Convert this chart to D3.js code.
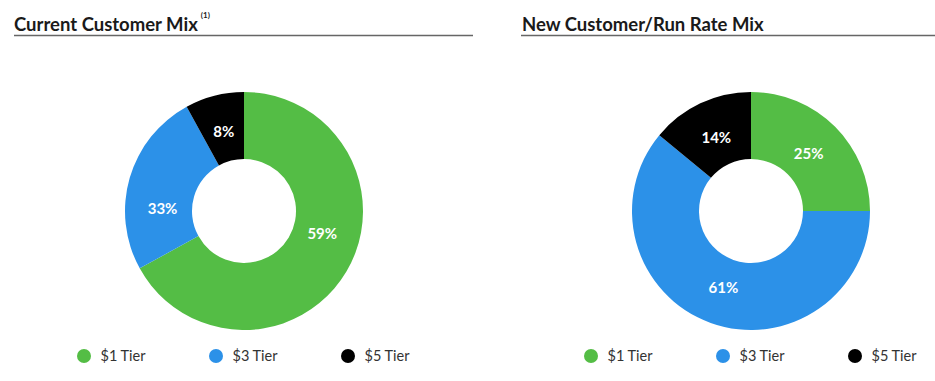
<!DOCTYPE html>
<html><head><meta charset="utf-8">
<script src="https://cdn.jsdelivr.net/npm/d3@7"></script>
<style>
html,body{margin:0;padding:0;background:#fff;}
svg{display:block;font-family:Lato,"Open Sans",sans-serif;}
</style></head>
<body><svg id="chart" width="935" height="381"></svg>
<script>
const tiers = ["$1 Tier", "$3 Tier", "$5 Tier"];
const colors = ["#54BD45", "#2C91E8", "#000000"];
const currentShares = [67, 25, 8];
// printed percentage labels
const currentLabels = [59, 33, 8];
const newShares = [25, 61, 14];
const newLabels = [25, 61, 14];

const svg = d3.select("#chart");
const panels = [
  {title: "Current Customer Mix", sup: "(1)", shares: currentShares, labels: currentLabels, cx: 244, lineX0: 14, lineX1: 473, titleX: 14},
  {title: "New Customer/Run Rate Mix", sup: null, shares: newShares, labels: newLabels, cx: 751, lineX0: 521, lineX1: 935, titleX: 522}
];
const cy = 211, rOuter = 119, rInner = 52;
const pie = d3.pie().sort(null).value(d => d);
const arc = d3.arc().innerRadius(rInner).outerRadius(rOuter);
const labelArc = d3.arc().innerRadius(rInner).outerRadius(rOuter - 8);

panels.forEach(p => {
  const t = svg.append("text").attr("x", p.titleX).attr("y", 31)
    .attr("font-size", 18.5).attr("font-weight", 700).attr("fill", "#1a1a1a")
    .text(p.title);
  if (p.sup) {
    const w = t.node().getComputedTextLength();
    svg.append("text").attr("x", p.titleX + w + 3).attr("y", 18)
      .attr("font-size", 8).attr("font-weight", 700).attr("fill", "#1a1a1a").text(p.sup);
  }
  svg.append("line").attr("x1", p.lineX0).attr("x2", p.lineX1).attr("y1", 35.5).attr("y2", 35.5)
    .attr("stroke", "#666").attr("stroke-width", 1.3);

  const g = svg.append("g").attr("transform", `translate(${p.cx},${cy})`);
  g.selectAll("path").data(pie(p.shares)).join("path")
    .attr("d", arc).attr("fill", (d, i) => colors[i]);
  g.selectAll("text").data(pie(p.labels)).join("text")
    .attr("transform", d => `translate(${labelArc.centroid(d)})`)
    .attr("text-anchor", "middle").attr("dy", "0.35em")
    .attr("font-size", 15).attr("font-weight", 700).attr("fill", "#fff")
    .text(d => d.data + "%");

  const legend = svg.append("g").attr("transform", `translate(${p.cx},356)`);
  const lx = d3.scalePoint().domain(tiers).range([-160, 104]);
  const items = legend.selectAll("g").data(tiers).join("g")
    .attr("transform", d => `translate(${lx(d)},0)`);
  items.append("circle").attr("r", 7).attr("fill", (d, i) => colors[i]);
  items.append("text").attr("x", 16.5).attr("dy", "0.35em")
    .attr("font-size", 14.5).attr("fill", "#333").text(d => d);
});
</script></body></html>
